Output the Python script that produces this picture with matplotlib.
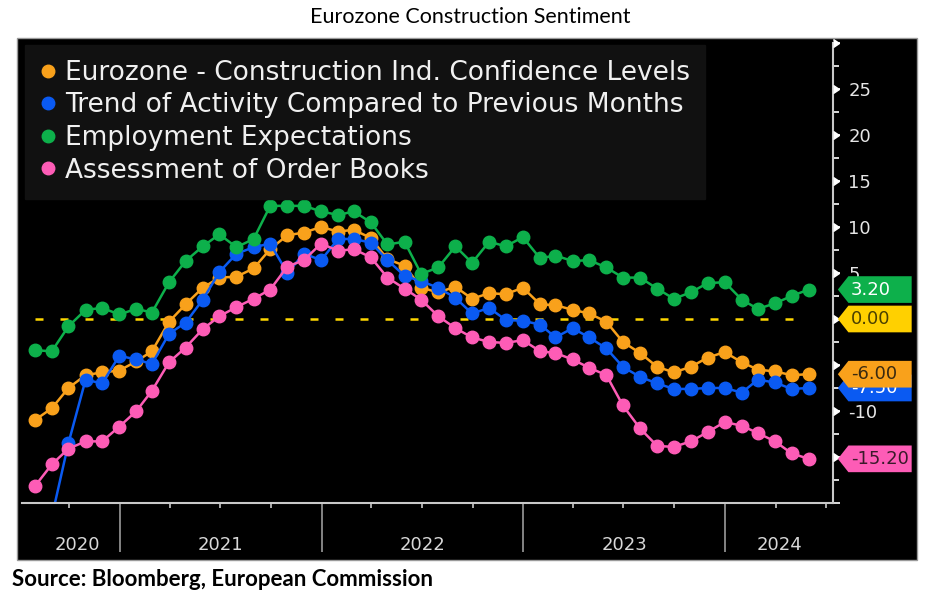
import matplotlib
matplotlib.use("Agg")
import matplotlib.pyplot as plt
import matplotlib.dates as mdates
import matplotlib.transforms as mtransforms
from matplotlib.patches import Rectangle, Polygon
from matplotlib.lines import Line2D
from matplotlib.ticker import MultipleLocator, FuncFormatter, NullFormatter
import pandas as pd

# Monthly data, Jul 2020 - May 2024 (month end)
dates = pd.date_range("2020-08-01", periods=47, freq="MS") - pd.Timedelta(days=1)

confidence = [-11.0, -9.7, -7.5, -6.1, -5.8, -5.6, -4.6, -3.5, -0.3, 1.6, 3.4, 4.5,
              4.6, 5.5, 7.6, 9.1, 9.4, 10.0, 9.5, 9.7, 8.8, 6.5, 5.8, 3.4,
              2.9, 3.5, 2.2, 2.8, 2.7, 3.4, 1.6, 1.5, 1.0, 0.6, -0.3, -2.5,
              -3.7, -5.2, -5.8, -5.2, -4.2, -3.6, -4.7, -5.5, -5.7, -6.1, -6.0]
activity = [-26.0, -21.5, -13.5, -6.6, -7.0, -4.0, -4.4, -4.9, -1.6, -0.4, 2.1, 5.1,
            7.1, 7.8, 8.2, 5.0, 7.1, 6.4, 8.7, 8.7, 8.3, 6.4, 4.7, 4.1,
            3.4, 2.3, 0.6, 1.2, -0.1, -0.2, -0.6, -2.0, -1.0, -2.0, -3.2, -5.2,
            -6.3, -7.0, -7.6, -7.6, -7.5, -7.5, -8.0, -6.6, -6.9, -7.6, -7.5]
employment = [-3.4, -3.5, -0.8, 1.0, 1.2, 0.5, 1.1, 0.7, 4.0, 6.3, 7.9, 9.2,
              7.8, 8.7, 12.3, 12.3, 12.3, 11.7, 11.3, 11.7, 10.5, 8.1, 8.4, 4.9,
              5.6, 7.9, 6.1, 8.4, 7.9, 8.9, 6.6, 6.9, 6.3, 6.4, 5.6, 4.5,
              4.5, 3.3, 2.2, 2.9, 3.9, 4.0, 2.1, 1.1, 1.7, 2.5, 3.2]
order_books = [-18.2, -15.8, -14.1, -13.3, -13.3, -11.7, -10.0, -7.8, -4.7, -3.1, -1.1, 0.3,
               1.3, 2.2, 3.2, 5.7, 6.4, 8.2, 7.4, 7.6, 6.7, 4.5, 3.3, 2.1,
               0.3, -1.0, -2.0, -2.5, -2.6, -2.3, -3.5, -3.7, -4.4, -5.3, -6.1, -9.4,
               -11.9, -13.8, -13.9, -13.3, -12.3, -11.2, -11.6, -12.4, -13.3, -14.6, -15.2]

labels = ["Eurozone - Construction Ind. Confidence Levels",
          "Trend of Activity Compared to Previous Months",
          "Employment Expectations",
          "Assessment of Order Books"]
colors = ["#f9a11b", "#0a5af2", "#0db04b", "#fd5cb6"]
series = [confidence, activity, employment, order_books]
years = [2020, 2021, 2022, 2023, 2024]

fig = plt.figure(figsize=(9.4, 5.96), dpi=100)
W, H = 940, 596

# black panel behind the chart
fig.add_artist(Rectangle((17 / W, 1 - 560 / H), 900 / W, 522 / H, transform=fig.transFigure,
                         facecolor="black", edgecolor="#9a9a9a", lw=1, zorder=-1))

ax = fig.add_axes([22 / W, 1 - 503 / H, 811 / W, 460 / H])
ax.set_facecolor("black")

ax.hlines(0, dates[0], dates[-1], colors="#ffd700", lw=1.8,
          linestyles=(0, (3.2, 6.8)), zorder=1.5)
for vals, c in zip(series, colors):
    ax.plot(dates, vals, color=c, lw=1.8, marker="o", markersize=9, zorder=2)

ax.set_xlim(pd.Timestamp("2020-07-08"), pd.Timestamp("2024-07-14"))
ax.set_ylim(-20, 30)

for s in ["left", "top"]:
    ax.spines[s].set_visible(False)
for s in ["right", "bottom"]:
    ax.spines[s].set_color("#c8c8c8")
    ax.spines[s].set_linewidth(1.5)

# y axis on the right; labels hidden under the value tags are left blank
hidden = (30, -20, 0, -5, -15)
ax.yaxis.tick_right()
ax.yaxis.set_major_locator(MultipleLocator(5))
ax.yaxis.set_minor_locator(MultipleLocator(2.5))
ax.yaxis.set_major_formatter(FuncFormatter(lambda v, p: "" if v in hidden else f"{v:g}"))
ax.tick_params(axis="y", which="major", colors="white", length=5, width=1.2,
               labelsize=13, labelcolor="#e6e6e6", pad=6)
ax.tick_params(axis="y", which="minor", colors="white", length=4, width=1.2)

trans = mtransforms.blended_transform_factory(ax.transAxes, ax.transData)
yt = [v for v in range(-15, 35, 5)]
ax.plot([1] * len(yt), yt, linestyle="none", marker=9, markersize=6, color="white",
        transform=trans, clip_on=False, zorder=4)

# x axis: year separators and quarterly ticks
ax.xaxis.set_major_locator(mdates.YearLocator())
ax.xaxis.set_minor_locator(mdates.MonthLocator(bymonth=[1, 4, 7, 10]))
ax.xaxis.set_major_formatter(NullFormatter())
ax.tick_params(axis="x", which="major", colors="#9a9a9a", length=35, width=1.2)
ax.tick_params(axis="x", which="minor", colors="#c8c8c8", length=3.5, width=1.2)

xtrans = mtransforms.blended_transform_factory(ax.transData, ax.transAxes)
x0, x1 = ax.get_xlim()
for yr in years:
    start = max(mdates.date2num(pd.Timestamp(f"{yr}-01-01")), mdates.date2num(dates[0]))
    end = min(mdates.date2num(pd.Timestamp(f"{yr + 1}-01-01")), x1)
    ax.text((start + end) / 2, -0.091, str(yr), transform=xtrans, ha="center", va="center",
            color="#d8d8d8", fontsize=13)

# legend
handles = [Line2D([], [], linestyle="none", marker="o", markersize=9, color=c) for c in colors]
leg = ax.legend(handles, labels, loc="upper left", bbox_to_anchor=(0.004, 0.996),
                borderaxespad=0, frameon=True, facecolor="#111111", edgecolor="#111111",
                framealpha=1, fontsize=19, labelcolor="#f0f0f0", handlelength=0.6,
                handletextpad=0.35, labelspacing=0.25, borderpad=0.57, fancybox=False)
leg.set_zorder(10)

# last value tags
def tag(y, text, face, tcolor, z):
    h = 1.45
    pts = [(1.006, y), (1.019, y + h), (1.097, y + h), (1.097, y - h), (1.019, y - h)]
    ax.add_patch(Polygon(pts, closed=True, transform=trans, facecolor=face,
                         edgecolor="none", clip_on=False, zorder=z))
    ax.text(1.022, y, text, transform=trans, color=tcolor, fontsize=13, ha="left",
            va="center", clip_on=False, zorder=z + 0.5)

tag(order_books[-1], f"{order_books[-1]:.2f}", colors[3], "#3a1a2a", 5)
tag(activity[-1], f"{activity[-1]:.2f}", colors[1], "white", 6)
tag(confidence[-1], f"{confidence[-1]:.2f}", colors[0], "#3a2a10", 7)
tag(0, "0.00", "#ffd000", "#4a4000", 8)
tag(employment[-1], f"{employment[-1]:.2f}", colors[2], "white", 9)

fig.text(0.5, 1 - 17 / H, "Eurozone Construction Sentiment", ha="center", va="center",
         fontsize=15.5, family="Lato", color="black")
fig.text(12 / W, 1 - 580 / H, "Source: Bloomberg, European Commission", ha="left",
         va="center", fontsize=16, fontweight="bold", family="Lato", color="black")

fig.savefig("out.png", dpi=100, facecolor="white")
